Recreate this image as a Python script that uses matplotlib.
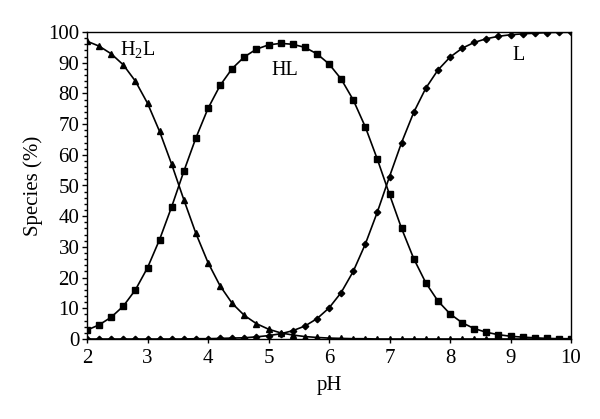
import matplotlib
matplotlib.use("Agg")
import matplotlib.pyplot as plt
from matplotlib.ticker import MultipleLocator

plt.rcParams['font.family'] = ['Liberation Serif', 'DejaVu Serif']
plt.rcParams['mathtext.fontset'] = 'custom'
plt.rcParams['mathtext.rm'] = 'Liberation Serif'

ph = [2.0, 2.2, 2.4, 2.6, 2.8, 3.0, 3.2, 3.4, 3.6, 3.8, 4.0, 4.2, 4.4, 4.6, 4.8,
      5.0, 5.2, 5.4, 5.6, 5.8, 6.0, 6.2, 6.4, 6.6, 6.8, 7.0, 7.2, 7.4, 7.6, 7.8,
      8.0, 8.2, 8.4, 8.6, 8.8, 9.0, 9.2, 9.4, 9.6, 9.8, 10.0]

h2l = [97.0, 95.4, 92.9, 89.3, 84.0, 76.8, 67.6, 56.9, 45.4, 34.4, 24.9, 17.3,
       11.6, 7.7, 5.0, 3.2, 2.0, 1.3, 0.8, 0.5, 0.3, 0.2, 0.1, 0.1, 0.0, 0.0,
       0.0, 0.0, 0.0, 0.0, 0.0, 0.0, 0.0, 0.0, 0.0, 0.0, 0.0, 0.0, 0.0, 0.0, 0.0]

hl = [2.9, 4.6, 7.1, 10.7, 16.0, 23.2, 32.4, 43.1, 54.6, 65.5, 75.1, 82.6,
      88.1, 91.9, 94.4, 95.8, 96.3, 96.0, 95.0, 92.9, 89.6, 84.7, 77.9, 69.1,
      58.5, 47.1, 36.0, 26.2, 18.3, 12.4, 8.2, 5.3, 3.4, 2.2, 1.4, 0.9, 0.6,
      0.4, 0.2, 0.1, 0.1]

l = [0.0, 0.0, 0.0, 0.0, 0.0, 0.0, 0.0, 0.0, 0.0, 0.1, 0.1, 0.2, 0.3, 0.4,
     0.7, 1.1, 1.7, 2.7, 4.2, 6.6, 10.1, 15.1, 22.0, 30.9, 41.4, 52.9, 64.0,
     73.8, 81.7, 87.6, 91.8, 94.7, 96.6, 97.8, 98.6, 99.1, 99.4, 99.6, 99.8,
     99.9, 99.9]

x_ticks = [2, 3, 4, 5, 6, 7, 8, 9, 10]
y_ticks = [0, 10, 20, 30, 40, 50, 60, 70, 80, 90, 100]

fig = plt.figure(figsize=(6.0, 4.19), dpi=100)
ax = fig.add_axes([87/600, 1 - 339/419, (571-87)/600, (339-32)/419])

ax.plot(ph, h2l, color='black', lw=1.2, marker='^', ms=4.5, zorder=3)
ax.plot(ph, hl, color='black', lw=1.2, marker='s', ms=4.2, zorder=3)
ax.plot(ph, l, color='black', lw=1.2, marker='D', ms=3.3, zorder=3)

ax.set_xlim(2, 10)
ax.set_ylim(0, 100)
ax.set_xticks(x_ticks)
ax.set_yticks(y_ticks)
ax.yaxis.set_minor_locator(MultipleLocator(2))
ax.tick_params(axis='both', which='major', direction='out', length=3.5, width=1,
               labelsize=15, pad=2)
ax.tick_params(axis='y', which='minor', direction='out', length=2, width=1)
ax.tick_params(axis='x', which='major', length=3, pad=4)
for s in ax.spines.values():
    s.set_linewidth(1.0)

ax.set_xlabel('pH', fontsize=15, labelpad=6)
ax.set_ylabel('Species (%)', fontsize=15, labelpad=4)

ax.text(2.55, 94, 'H$_2$L', fontsize=14.5, va='center', ha='left')
ax.text(5.05, 87.6, 'HL', fontsize=14.5, va='center', ha='left')
ax.text(9.03, 92.5, 'L', fontsize=14.5, va='center', ha='left')

fig.savefig('out.png', dpi=100)
